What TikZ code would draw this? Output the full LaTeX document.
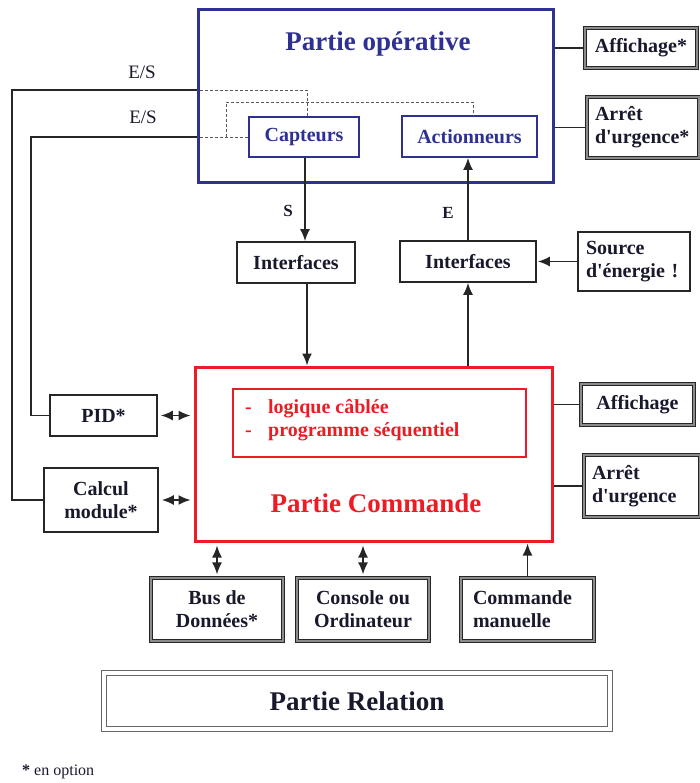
\documentclass[tikz,border=0pt]{standalone}
\usepackage{fontspec}
\setmainfont{Liberation Serif}
\usetikzlibrary{arrows.meta,calc}
\definecolor{pblue}{RGB}{46,49,146}
\definecolor{pred}{RGB}{237,28,36}
\definecolor{ink}{RGB}{25,25,45}
\newcommand{\apos}{\textquotesingle}
\tikzset{
  lab/.style={font=\fontsize{20}{23}\selectfont\bfseries, text=ink},
  bigt/.style={font=\fontsize{27}{30}\selectfont\bfseries},
  sbox/.style={lab, draw=black!85, line width=1.6pt, fill=white, inner sep=0pt, align=center},
  dbox/.style={lab, draw=black!85, line width=1.1pt, double=black!45, double distance=1.3pt, fill=white, inner sep=0pt, align=center},
  bbox/.style={lab, text=pblue, draw=pblue, line width=1.8pt, fill=white, inner sep=0pt},
  conn/.style={draw=black!85, line width=1.7pt},
  tip/.tip={Latex[length=12pt,width=10pt]},
  arr/.style={conn, -tip},
  darr/.style={conn, tip-tip},
  dsh/.style={draw=black!65, line width=0.9pt, dash pattern=on 3pt off 2pt},
}
\begin{document}
\begin{tikzpicture}[x=1pt,y=-1pt]
\useasboundingbox (0,0) rectangle (699,783);
% Partie operative
\node[draw=pblue, line width=3pt, minimum width=355pt, minimum height=173pt, inner sep=0pt] (PO) at (375.5,96.5) {};
\node[bigt, text=pblue] (POt) at (378,44) {Partie opérative};
\node[bbox, minimum width=110pt, minimum height=40pt] (Cap) at (304,137) {Capteurs};
\node[bbox, minimum width=135pt, minimum height=41pt] (Act) at (469.5,136.5) {Actionneurs};
% right boxes top
\node[dbox, minimum width=112pt, minimum height=40pt] (Aff1) at (641,48) {Affichage*};
\node[dbox, minimum width=112pt, minimum height=61pt, align=left, text width=96pt] (Arr1) at (643,127.5) {Arrêt\\d\apos urgence*};
% interfaces
\node[sbox, minimum width=118pt, minimum height=41pt] (I1) at (296,262.5) {Interfaces};
\node[sbox, minimum width=136pt, minimum height=41pt] (I2) at (468,261.5) {Interfaces};
\node[sbox, minimum width=112pt, minimum height=59pt, align=left, text width=96pt] (Src) at (634,261.5) {Source\\d\apos énergie !};
% Partie commande
\node[draw=pred, line width=3pt, minimum width=357pt, minimum height=174pt, inner sep=0pt] (PC) at (373.5,454) {};
\node[draw=pred, line width=1.8pt, minimum width=293pt, minimum height=68pt, inner sep=0pt] (In) at (379.5,423) {};
\node[lab, text=pred, anchor=west, align=left, inner sep=0pt] (InT) at (245,420) {\makebox[23pt][l]{-}logique câblée\\\makebox[23pt][l]{-}programme séquentiel};
\node[bigt, text=pred] (PCt) at (376,503) {Partie Commande};
% left boxes
\node[sbox, minimum width=107pt, minimum height=41pt] (PID) at (103.5,415.5) {PID*};
\node[sbox, minimum width=114pt, minimum height=64pt] (Cal) at (101,500) {Calcul\\module*};
% right boxes bottom
\node[dbox, minimum width=113pt, minimum height=41pt] (Aff2) at (637.5,404.5) {Affichage};
\node[dbox, minimum width=116pt, minimum height=62pt, align=left, text width=100pt] (Arr2) at (642,486) {Arrêt\\d\apos urgence};
% bottom boxes
\node[dbox, minimum width=132pt, minimum height=63pt] (Bus) at (217,609.5) {Bus de\\Données*};
\node[dbox, minimum width=132pt, minimum height=63pt] (Con) at (363,609.5) {Console ou\\Ordinateur};
\node[dbox, minimum width=133pt, minimum height=63pt, align=left, text width=109pt] (Cmd) at (527.5,609.5) {Commande\\manuelle};
% Partie relation
\node[draw=black!60, line width=1.2pt, double=white, double distance=3.5pt, minimum width=506pt, minimum height=56pt, inner sep=0pt, bigt, text=ink] (Rel) at (357,701) {Partie Relation};
% footnote
\node[font=\fontsize{16}{18}\selectfont, text=ink, anchor=west, inner sep=0pt] (note) at (22,772) {\textbf{*} en option};
% E/S links
\coordinate (a1) at (307,90);
\coordinate (a2) at (12,90);
\coordinate (a3) at (12,500);
\coordinate (b2) at (31,137);
\coordinate (b3) at (31,415.5);
\coordinate (c1) at (226,137);
\coordinate (c2) at (226,102);
\coordinate (c3) at (473,102);
\draw[dsh] (Cap.north -| a1) -- (a1) -- (a1 -| PO.west);
\draw[conn] (a1 -| PO.west) -- (a2) -- (a3) -- (Cal.west);
\draw[dsh] (Cap.west) -- (Cap.west -| PO.west);
\draw[conn] (Cap.west -| PO.west) -- (b2) -- (b3) -- (PID.west);
\draw[dsh] (c1) -- (c2) -- (c3) -- (Act.north -| c3);
\node[font=\fontsize{19}{21}\selectfont, text=ink] (es1) at (142,72) {E/S};
\node[font=\fontsize{19}{21}\selectfont, text=ink] (es2) at (143,117) {E/S};
% S / E
\draw[arr] (Cap.south -| 305,0) -- (I1.north -| 305,0);
\node[lab, font=\fontsize{17}{20}\selectfont\bfseries] (S) at (288,211) {S};
\draw[arr] (I1.south -| 307,0) -- (PC.north -| 307,0);
\draw[arr] (PC.north -| I2.south) -- (I2.south);
\draw[arr] (I2.north) -- (Act.south -| I2.north);
\node[lab, font=\fontsize{17}{20}\selectfont\bfseries] (E) at (448,213) {E};
\draw[arr, shorten >=1pt] (Src.west) -- (Src.west -| I2.east);
% right lines
\draw[conn] (Aff1.west -| PO.east) -- (Aff1.west);
\draw[conn] (Arr1.west -| PO.east) -- (Arr1.west);
\draw[conn] (Aff2.west -| PC.east) -- (Aff2.west);
\draw[conn] (Arr2.west -| PC.east) -- (Arr2.west);
% left double arrows
\draw[darr, shorten <=3pt, shorten >=3pt] (PID.east) -- (PID.east -| PC.west);
\draw[darr, shorten <=3pt, shorten >=3pt] (Cal.east) -- (Cal.east -| PC.west);
% bottom arrows
\draw[darr, shorten <=3pt, shorten >=3pt] (PC.south -| Bus.north) -- (Bus.north);
\draw[darr, shorten <=3pt, shorten >=3pt] (PC.south -| Con.north) -- (Con.north);
\draw[arr, shorten >=1pt] (Cmd.north) -- (PC.south -| Cmd.north);
\end{tikzpicture}
\end{document}
